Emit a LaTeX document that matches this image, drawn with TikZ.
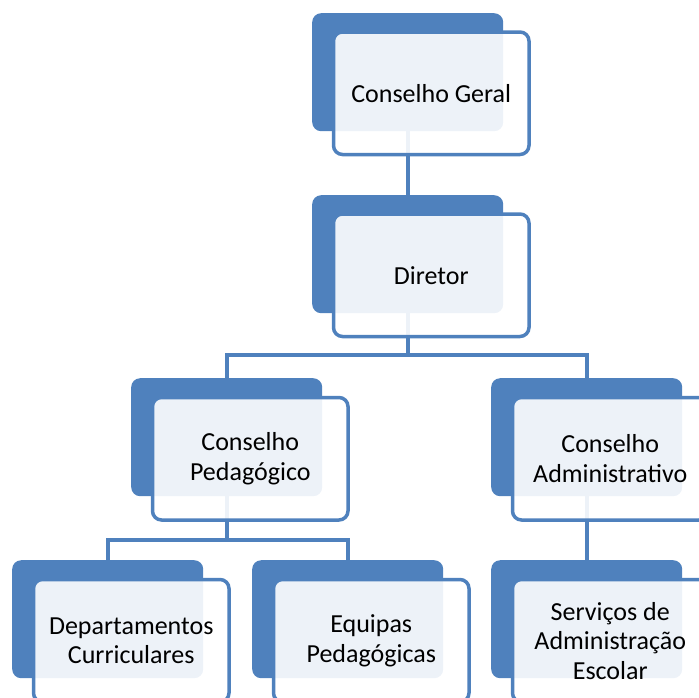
\documentclass[tikz,border=0pt]{standalone}
\usepackage{fontspec}
\setmainfont{Carlito}
\definecolor{accent}{HTML}{4F81BD}
\begin{document}
\begin{tikzpicture}[x=1pt,y=-1pt,
  backbox/.style={draw=none,fill=accent,rounded corners=9pt,minimum width=191pt,minimum height=118pt,inner sep=0pt,anchor=north west},
  frontbox/.style={draw=accent,line width=3.5pt,fill=white,fill opacity=0.9,text opacity=1,rounded corners=9pt,minimum width=195.5pt,minimum height=122.5pt,inner sep=0pt,anchor=north west,align=center,font=\fontsize{26}{29.5}\selectfont},
  link/.style={draw=accent,line width=4pt}]
\useasboundingbox (0,0) rectangle (699,697);
% back boxes
\node[backbox] (cgB)  at (312,13) {};
\node[backbox] (dirB) at (312,195) {};
\node[backbox] (pedB) at (131,378) {};
\node[backbox] (admB) at (491,378) {};
\node[backbox] (depB) at (12,560) {};
\node[backbox] (equB) at (252,560) {};
\node[backbox] (serB) at (491,560) {};
% connectors
\draw[link] (cgB.south) -- (dirB.north);
\draw[link] (dirB.south) -- ++(0,42);
\draw[link] (pedB.north) -- ++(0,-23) -| (admB.north);
\draw[link] (pedB.south) -- ++(0,44);
\draw[link] (depB.north) -- ++(0,-20) -| (equB.north);
\draw[link] (admB.south) -- (serB.north);
% front boxes
\node[frontbox] (cg)  at (331.75,30.25) {Conselho Geral};
\node[frontbox] (dir) at (331.75,212.25) {Diretor};
\node[frontbox] (ped) at (150.75,395.75) {Conselho\\Pedagógico};
\node[frontbox] (adm) at (510.75,395.75) {Conselho\\Administrativo};
\node[frontbox] (dep) at (31.75,577.75) {Departamentos\\Curriculares};
\node[frontbox] (equ) at (271.75,577.75) {Equipas\\Pedagógicas};
\node[frontbox] (ser) at (510.75,577.75) {Serviços de\\Administração\\Escolar};
\end{tikzpicture}
\end{document}
